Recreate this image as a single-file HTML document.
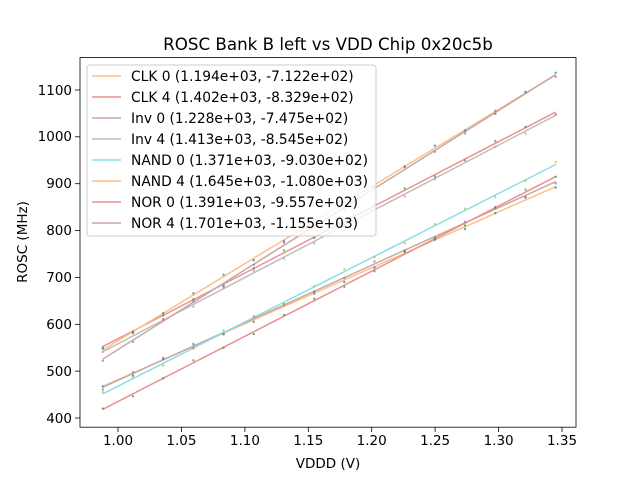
<!DOCTYPE html>
<html><head><meta charset="utf-8"><style>
body{margin:0;background:#fff}
svg text{font-family:"DejaVu Sans","Liberation Sans",sans-serif;fill:#000}
</style></head><body>
<svg id="s" width="640" height="480" xmlns="http://www.w3.org/2000/svg">
<rect width="640" height="480" fill="#fff"/>
<text x="328" y="50" font-size="16.7" text-anchor="middle">ROSC Bank B left vs VDD Chip 0x20c5b</text>
<g id="lines" stroke-width="1.5" fill="none" opacity="0.5">
<line x1="102.8" y1="386.4" x2="555.7" y2="186.7" stroke="#ff7f0e"/>
<line x1="102.8" y1="346.6" x2="555.7" y2="112.1" stroke="#d62728"/>
<line x1="102.8" y1="387.2" x2="555.7" y2="181.7" stroke="#8c564b"/>
<line x1="102.8" y1="351.7" x2="555.7" y2="115.3" stroke="#7f7f7f"/>
<line x1="102.8" y1="393.9" x2="555.7" y2="164.5" stroke="#17becf"/>
<line x1="102.8" y1="349.9" x2="555.7" y2="74.8" stroke="#ff7f0e"/>
<line x1="102.8" y1="409.3" x2="555.7" y2="176.6" stroke="#d62728"/>
<line x1="102.8" y1="359.1" x2="555.7" y2="74.6" stroke="#8c564b"/>
</g>
<g id="dots"></g>
<rect x="80" y="57.6" width="496" height="369.6" fill="none" stroke="#000" stroke-width="0.8"/>
<g stroke="#000" stroke-width="0.8">
<line x1="118" y1="427.2" x2="118" y2="432"/><line x1="181.4" y1="427.2" x2="181.4" y2="432"/>
<line x1="244.9" y1="427.2" x2="244.9" y2="432"/><line x1="308.3" y1="427.2" x2="308.3" y2="432"/>
<line x1="371.7" y1="427.2" x2="371.7" y2="432"/><line x1="435.1" y1="427.2" x2="435.1" y2="432"/>
<line x1="498.6" y1="427.2" x2="498.6" y2="432"/><line x1="562" y1="427.2" x2="562" y2="432"/>
<line x1="75" y1="418" x2="80" y2="418"/><line x1="75" y1="371.1" x2="80" y2="371.1"/>
<line x1="75" y1="324.3" x2="80" y2="324.3"/><line x1="75" y1="277.4" x2="80" y2="277.4"/>
<line x1="75" y1="230.6" x2="80" y2="230.6"/><line x1="75" y1="183.7" x2="80" y2="183.7"/>
<line x1="75" y1="136.8" x2="80" y2="136.8"/><line x1="75" y1="90" x2="80" y2="90"/>
</g>
<g font-size="13.5" text-anchor="middle">
<text x="118" y="445">1.00</text><text x="181.4" y="445">1.05</text><text x="244.9" y="445">1.10</text>
<text x="308.3" y="445">1.15</text><text x="371.7" y="445">1.20</text><text x="435.1" y="445">1.25</text>
<text x="498.6" y="445">1.30</text><text x="562" y="445">1.35</text>
<text x="328" y="468">VDDD (V)</text>
</g>
<g font-size="13.5" text-anchor="end">
<text x="72" y="423">400</text><text x="72" y="376">500</text><text x="72" y="329">600</text>
<text x="72" y="282">700</text><text x="72" y="235">800</text><text x="72" y="188">900</text>
<text x="72" y="141">1000</text><text x="72" y="95">1100</text>
</g>
<text font-size="13.5" text-anchor="middle" transform="translate(27,242) rotate(-90)">ROSC (MHz)</text>
<rect x="87" y="65" width="289" height="171" rx="3" fill="#fff" fill-opacity="0.8" stroke="#ccc" stroke-width="1"/>
<g stroke-width="1.5" opacity="0.5">
<line x1="92" y1="76" x2="121" y2="76" stroke="#ff7f0e"/>
<line x1="92" y1="97" x2="121" y2="97" stroke="#d62728"/>
<line x1="92" y1="118" x2="121" y2="118" stroke="#8c564b"/>
<line x1="92" y1="139" x2="121" y2="139" stroke="#7f7f7f"/>
<line x1="92" y1="160" x2="121" y2="160" stroke="#17becf"/>
<line x1="92" y1="181" x2="121" y2="181" stroke="#ff7f0e"/>
<line x1="92" y1="202" x2="121" y2="202" stroke="#d62728"/>
<line x1="92" y1="223" x2="121" y2="223" stroke="#8c564b"/>
</g>
<g font-size="13.8">
<text x="131" y="81">CLK 0 (1.194e+03, -7.122e+02)</text>
<text x="131" y="102">CLK 4 (1.402e+03, -8.329e+02)</text>
<text x="131" y="123">Inv 0 (1.228e+03, -7.475e+02)</text>
<text x="131" y="144">Inv 4 (1.413e+03, -8.545e+02)</text>
<text x="131" y="165">NAND 0 (1.371e+03, -9.030e+02)</text>
<text x="131" y="186">NAND 4 (1.645e+03, -1.080e+03)</text>
<text x="131" y="207">NOR 0 (1.391e+03, -9.557e+02)</text>
<text x="131" y="228">NOR 4 (1.701e+03, -1.155e+03)</text>
</g>
</svg>
<script>
var L=[[386.4,186.7,"#1f77b4"],[346.6,112.1,"#2ca02c"],[387.2,181.7,"#9467bd"],[351.7,115.3,"#e377c2"],[393.9,164.5,"#bcbd22"],[349.9,74.8,"#1f77b4"],[409.3,176.6,"#2ca02c"],[359.1,74.6,"#9467bd"]];
var g=document.getElementById("dots"),h="";
for(var i=0;i<8;i++){for(var k=0;k<16;k++){var t=k/15,x=102.8+t*452.9,y=L[i][0]+t*(L[i][1]-L[i][0])+Math.sin(k*1.7+i)*2.5;
h+='<circle cx="'+x.toFixed(1)+'" cy="'+y.toFixed(1)+'" r="1.2" fill="'+L[i][2]+'" opacity="0.7"/>';}}
g.innerHTML=h;
</script>
</body></html>
